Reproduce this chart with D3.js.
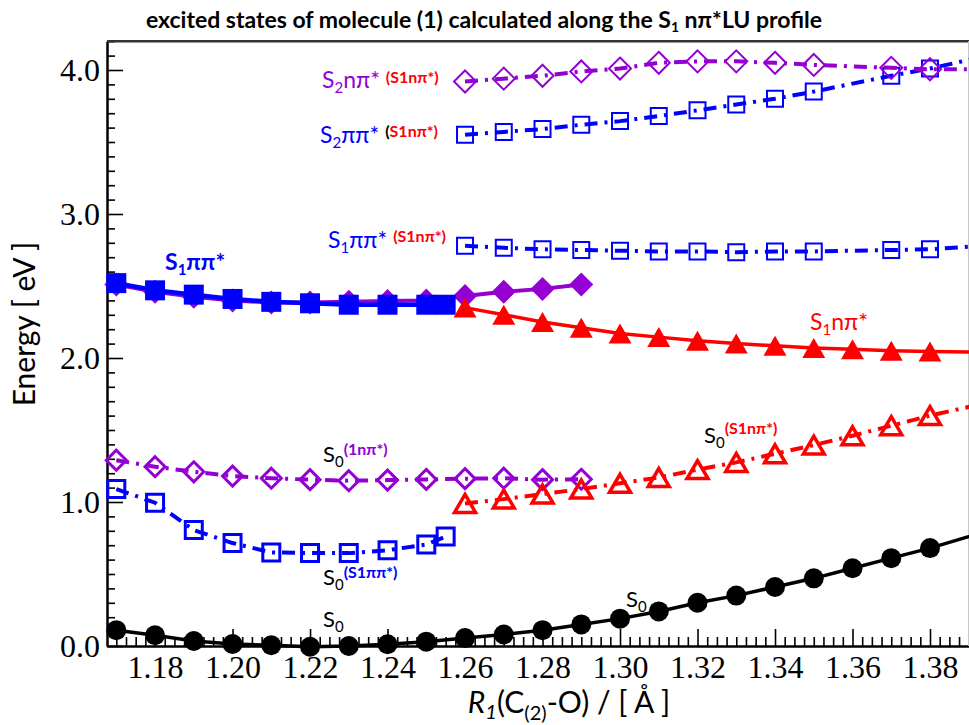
<!DOCTYPE html>
<html>
<head>
<meta charset="utf-8">
<script src="https://cdn.jsdelivr.net/npm/d3@7"></script>
<style>
  body { margin: 0; background: #fff; }
  svg { display: block; }
</style>
</head>
<body>
<svg id="chart" width="969" height="725"></svg>
<script>
// ---- data (R1 in Angstrom, energies in eV) ----
const rLeft   = [1.17, 1.18, 1.19, 1.20, 1.21, 1.22, 1.23, 1.24, 1.25, 1.255];
const rMid    = [1.17, 1.18, 1.19, 1.20, 1.21, 1.22, 1.23, 1.24, 1.25, 1.26, 1.27, 1.28, 1.29];
const rRight  = [1.26, 1.27, 1.28, 1.29, 1.30, 1.31, 1.32, 1.33, 1.34, 1.35, 1.36, 1.37, 1.38, 1.40];
const rUpper  = [1.26, 1.27, 1.28, 1.29, 1.30, 1.31, 1.32, 1.33, 1.34, 1.35, 1.37, 1.38, 1.40];
const rAll    = [1.17, 1.18, 1.19, 1.20, 1.21, 1.22, 1.23, 1.24, 1.25, 1.26, 1.27, 1.28,
                 1.29, 1.30, 1.31, 1.32, 1.33, 1.34, 1.35, 1.36, 1.37, 1.38, 1.40];

const eS0        = [0.11, 0.075, 0.035, 0.014, 0.005, -0.005, 0.0, 0.012, 0.03, 0.055, 0.08, 0.11,
                    0.15, 0.19, 0.24, 0.30, 0.35, 0.41, 0.47, 0.54, 0.61, 0.68, 0.84];
const eS1pp      = [2.52, 2.47, 2.44, 2.41, 2.39, 2.38, 2.37, 2.37, 2.37, 2.37];
const eS0S1pp    = [1.09, 0.995, 0.805, 0.715, 0.65, 0.645, 0.645, 0.665, 0.705, 0.76];
const eS1npLeft  = [2.51, 2.46, 2.425, 2.40, 2.385, 2.385, 2.39, 2.395, 2.40, 2.43, 2.46, 2.48, 2.51];
const eS0_1np    = [1.29, 1.245, 1.21, 1.18, 1.165, 1.155, 1.148, 1.152, 1.157, 1.162, 1.165, 1.155, 1.158];
const eS1np      = [2.35, 2.30, 2.25, 2.21, 2.17, 2.145, 2.12, 2.10, 2.085, 2.07, 2.06, 2.05, 2.045, 2.04];
const eS0S1np    = [0.99, 1.02, 1.055, 1.09, 1.13, 1.17, 1.225, 1.275, 1.335, 1.395, 1.46, 1.53, 1.60, 1.72];
const eS1ppS1np  = [2.78, 2.765, 2.755, 2.75, 2.745, 2.74, 2.74, 2.735, 2.74, 2.74, 2.75, 2.755, 2.79];
const eS2ppS1np  = [3.55, 3.57, 3.59, 3.62, 3.645, 3.68, 3.72, 3.76, 3.80, 3.85, 3.96, 4.01, 4.13];
const eS2npS1np  = [3.92, 3.94, 3.96, 3.99, 4.01, 4.05, 4.06, 4.06, 4.05, 4.035, 4.015, 4.005, 4.005];

const xMajor = [1.18, 1.20, 1.22, 1.24, 1.26, 1.28, 1.30, 1.32, 1.34, 1.36, 1.38];
const yMajor = [0, 1, 2, 3, 4];

const BLUE = '#0000ff', RED = '#ff0000', PURPLE = '#9400d3', BLACK = '#000';

const svg = d3.select('#chart');

const x = d3.scaleLinear().domain([1.1676, 1.39]).range([107, 968.75]);
const y = d3.scaleLinear().domain([0, 4.2]).range([646, 41.2]);

// ---- axes ----
const xMinor = d3.range(468, 557).filter(k => k % 8 !== 0).map(k => k * 0.0025);
const yMinor = d3.range(1, 43).filter(k => k % 10 !== 0).map(k => k / 10);

const gx = svg.append('g').attr('transform', `translate(0,${y(0)})`);
gx.append('g').call(d3.axisBottom(x).tickValues(xMinor).tickSize(-9).tickSizeOuter(0).tickFormat(''));
gx.append('g').call(d3.axisBottom(x).tickValues(xMajor).tickSize(-17).tickSizeOuter(0)
  .tickPadding(9).tickFormat(d3.format('.2f')));

const gy = svg.append('g').attr('transform', `translate(${x.range()[0]},0)`);
gy.append('g').call(d3.axisLeft(y).tickValues(yMinor).tickSize(-8).tickSizeOuter(0).tickFormat(''));
gy.append('g').call(d3.axisLeft(y).tickValues(yMajor).tickSize(-16).tickSizeOuter(0)
  .tickPadding(7).tickFormat(d3.format('.1f')));

svg.selectAll('.domain').attr('stroke', BLACK).attr('stroke-width', 2);
svg.selectAll('.tick line').attr('stroke', BLACK).attr('stroke-width', 1.6);
svg.selectAll('.tick text')
  .attr('font-family', '"Liberation Serif", "Times New Roman", serif')
  .attr('font-size', 32).attr('fill', BLACK);

// top frame line
svg.append('line')
  .attr('x1', x.range()[0]).attr('x2', 969)
  .attr('y1', y(4.2)).attr('y2', y(4.2))
  .attr('stroke', '#333').attr('stroke-width', 2.5);
svg.append('line')
  .attr('x1', 968.5).attr('x2', 968.5)
  .attr('y1', y(4.2)).attr('y2', y(0))
  .attr('stroke', '#c8c8c8').attr('stroke-width', 1);

// ---- markers ----
const shapes = {
  square: s => `M${-s / 2},${-s / 2}h${s}v${s}h${-s}Z`,
  diamond: h => `M0,${-h}L${h},0L0,${h}L${-h},0Z`,
  triangle: (w, h) => `M0,${-h / 2}L${w / 2},${h / 2}L${-w / 2},${h / 2}Z`
};

const DASHDOT = '13,7,3,7';

const series = [
  { r: rMid,   e: eS1npLeft, color: PURPLE, lw: 4,   dash: null,    shape: shapes.diamond(12),      fill: true },
  { r: rLeft,  e: eS1pp,     color: BLUE,   lw: 4.5, dash: null,    shape: shapes.square(20),       fill: true },
  { r: rRight, e: eS1np,     color: RED,    lw: 3.5, dash: null,    shape: shapes.triangle(23, 20), fill: true },
  { r: rMid,   e: eS0_1np,   color: PURPLE, lw: 4,   dash: DASHDOT, shape: shapes.diamond(10),      fill: false, sw: 3 },
  { r: rLeft,  e: eS0S1pp,   color: BLUE,   lw: 4,   dash: DASHDOT, shape: shapes.square(17),       fill: false, sw: 3 },
  { r: rRight, e: eS0S1np,   color: RED,    lw: 4,   dash: DASHDOT, shape: shapes.triangle(21, 18), fill: false, sw: 3.5 },
  { r: rAll,   e: eS0,       color: BLACK,  lw: 3.5, dash: null,    circle: 10,                     fill: true },
  { r: rUpper, e: eS1ppS1np, color: BLUE,   lw: 4,   dash: DASHDOT, shape: shapes.square(16),       fill: false, sw: 2 },
  { r: rUpper, e: eS2ppS1np, color: BLUE,   lw: 4,   dash: DASHDOT, shape: shapes.square(16),       fill: false, sw: 2 },
  { r: rUpper, e: eS2npS1np, color: PURPLE, lw: 4,   dash: DASHDOT, shape: shapes.diamond(11),      fill: false, sw: 2 }
];

const line = d3.line().x(d => x(d[0])).y(d => y(d[1]));

series.forEach(s => {
  const pts = d3.zip(s.r, s.e);
  const g = svg.append('g');
  g.append('path')
    .attr('d', line(pts))
    .attr('fill', 'none')
    .attr('stroke', s.color)
    .attr('stroke-width', s.lw)
    .attr('stroke-dasharray', s.dash);
  if (s.circle) {
    g.selectAll('circle').data(pts).join('circle')
      .attr('cx', d => x(d[0])).attr('cy', d => y(d[1]))
      .attr('r', s.circle).attr('fill', s.color);
  } else {
    g.selectAll('path.m').data(pts).join('path')
      .attr('class', 'm')
      .attr('transform', d => `translate(${x(d[0])},${y(d[1])})`)
      .attr('d', s.shape)
      .attr('fill', s.fill ? s.color : 'none')
      .attr('stroke', s.fill ? 'none' : s.color)
      .attr('stroke-width', s.sw || 0);
  }
});

// ---- text ----
const SANS = 'Lato, "Open Sans", "DejaVu Sans", sans-serif';

function rich(x0, y0, size, parts, anchor) {
  const t = svg.append('text')
    .attr('x', x0).attr('y', y0)
    .attr('font-family', SANS)
    .attr('font-size', size)
    .attr('text-anchor', anchor || 'start');
  let shift = 0;
  parts.forEach(p => {
    const s = p.shift || 0;
    t.append('tspan')
      .attr('dy', s - shift)
      .attr('font-size', p.size || size)
      .attr('fill', p.fill || BLACK)
      .attr('font-weight', p.bold ? 'bold' : 'normal')
      .attr('font-style', p.italic ? 'italic' : 'normal')
      .text(p.t);
    shift = s;
  });
  return t;
}

// title
rich(484, 28, 23, [
  { t: 'excited states of molecule (1) calculated along the  S', bold: true },
  { t: '1', bold: true, size: 14, shift: 4 },
  { t: ' n\u03c0*LU profile', bold: true }
], 'middle');

// axis titles
rich(0, 0, 30, [{ t: 'Energy [ eV ]' }], 'middle')
  .attr('transform', 'translate(35,324) rotate(-90)');

rich(569, 713, 30, [
  { t: 'R', italic: true },
  { t: '1', italic: true, size: 20, shift: 6 },
  { t: '(C' },
  { t: '(2)', size: 20, shift: 7 },
  { t: '-O) / [ \u00c5 ]' }
], 'middle');

// curve labels
const MAIN = 23, SUB = 15, SUP = 16;
rich(165, 270, MAIN, [
  { t: 'S', fill: BLUE, bold: true },
  { t: '1', fill: BLUE, bold: true, size: SUB, shift: 5 },
  { t: '\u03c0\u03c0*', fill: BLUE, bold: true }
]);

rich(322, 88, MAIN, [
  { t: 'S', fill: PURPLE },
  { t: '2', fill: PURPLE, size: SUB, shift: 5 },
  { t: 'n\u03c0* ', fill: PURPLE },
  { t: '(S1n\u03c0*)', fill: RED, bold: true, size: SUP, shift: -5 }
]);

rich(320, 143, MAIN, [
  { t: 'S', fill: BLUE },
  { t: '2', fill: BLUE, size: SUB, shift: 5 },
  { t: '\u03c0\u03c0* ', fill: BLUE },
  { t: '(', fill: BLACK, bold: true, size: SUP, shift: -6 },
  { t: 'S1n\u03c0*)', fill: RED, bold: true, size: SUP, shift: -6 }
]);

rich(328, 248, MAIN, [
  { t: 'S', fill: BLUE },
  { t: '1', fill: BLUE, size: SUB, shift: 5 },
  { t: '\u03c0\u03c0* ', fill: BLUE },
  { t: '(S1n\u03c0*)', fill: RED, bold: true, size: SUP, shift: -6 }
]);

rich(810, 330, MAIN, [
  { t: 'S', fill: RED },
  { t: '1', fill: RED, size: SUB, shift: 5 },
  { t: 'n\u03c0*', fill: RED }
]);

rich(323, 462, 22, [
  { t: 'S' },
  { t: '0', size: SUB, shift: 5 },
  { t: '(1n\u03c0*)', fill: PURPLE, bold: true, size: SUP, shift: -7 }
]);

rich(323, 585, 22, [
  { t: 'S' },
  { t: '0', size: SUB, shift: 5 },
  { t: '(S1\u03c0\u03c0*)', fill: BLUE, bold: true, size: SUP, shift: -7 }
]);

rich(323, 627, 22, [
  { t: 'S' },
  { t: '0', size: SUB, shift: 5 }
]);

rich(626, 607, 22, [
  { t: 'S' },
  { t: '0', size: SUB, shift: 5 }
]);

rich(704, 443, 22, [
  { t: 'S' },
  { t: '0', size: SUB, shift: 5 },
  { t: '(S1n\u03c0*)', fill: RED, bold: true, size: SUP, shift: -9 }
]);
</script>
</body>
</html>
